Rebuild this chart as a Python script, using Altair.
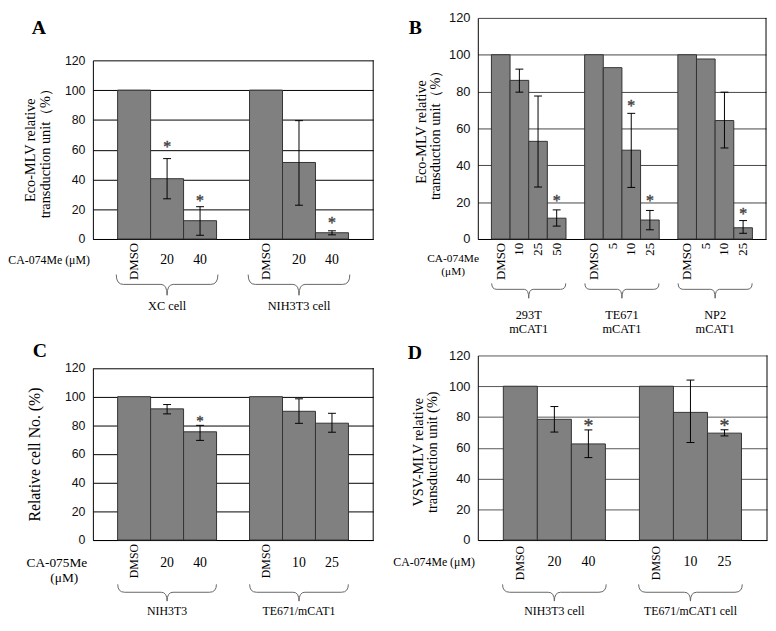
import altair as alt
import pandas as pd

SERIF = "Liberation Serif"
SANS = "Liberation Sans"
TICKS = [0, 20, 40, 60, 80, 100, 120]

# ---------------- data ----------------
A_groups = ["XC cell", "NIH3T3 cell"]
A_labels = [["DMSO", "20", "40"], ["DMSO", "20", "40"]]
A_values = [[100, 40.5, 12.3], [100, 51.4, 4.2]]
A_err_lo = [[None, 27.0, 2.5], [None, 22.7, 2.8]]
A_err_hi = [[None, 54.0, 21.7], [None, 79.5, 5.5]]
A_star = [[None, 64.0, 27.5], [None, None, 12.9]]

B_groups = ["293T\nmCAT1", "TE671\nmCAT1", "NP2\nmCAT1"]
B_labels = [["DMSO", "10", "25", "50"], ["DMSO", "5", "10", "25"], ["DMSO", "5", "10", "25"]]
B_values = [[100, 86.1, 53.0, 11.3], [100, 93.0, 48.2, 10.3], [100, 97.7, 64.3, 6.1]]
B_err_lo = [[None, 79.7, 28.2, 7.0], [None, None, 28.0, 5.0], [None, None, 49.4, 3.1]]
B_err_hi = [[None, 92.2, 77.6, 15.8], [None, None, 68.2, 15.5], [None, None, 79.7, 10.0]]
B_star = [[None, None, None, 22.3], [None, None, 74.0, 22.3], [None, None, None, 15.3]]

C_groups = ["NIH3T3", "TE671/mCAT1"]
C_labels = [["DMSO", "20", "40"], ["DMSO", "10", "25"]]
C_values = [[100, 91.5, 75.5], [100, 89.8, 81.5]]
C_err_lo = [[None, 88.0, 69.5], [None, 81.4, 75.2]]
C_err_hi = [[None, 94.5, 80.0], [None, 98.5, 88.4]]
C_star = [[None, None, 85.0], [None, None, None]]

D_groups = ["NIH3T3 cell", "TE671/mCAT1 cell"]
D_labels = [["DMSO", "20", "40"], ["DMSO", "10", "25"]]
D_values = [[100, 78.5, 62.5], [100, 83.0, 69.5]]
D_err_lo = [[None, 70.2, 53.6], [None, 63.4, 67.7]]
D_err_hi = [[None, 86.8, 71.6], [None, 104.0, 71.7]]
D_star = [[None, None, 76.4], [None, None, 76.4]]


def brace_path(width, end_px, point_px):
    r = width / 2.0
    e = end_px / r
    p = point_px / r
    return (f"M -1 {-e:.3f} Q -1 0 -0.86 0 L -0.12 0 Q 0 0 0 {p:.3f} "
            f"Q 0 0 0.12 0 L 0.86 0 Q 1 0 1 {-e:.3f}")


def panel(letter, groups, labels, values, lo, hi, star, cfg):
    rows, domain, centers = [], [], []
    for gi, (g, labs, vals, los, his, sts) in enumerate(zip(groups, labels, values, lo, hi, star)):
        if gi > 0:
            domain.append(f"gap{gi}")
        for i in range(len(labs)):
            key = f"{gi}-{i}"
            domain.append(key)
            rows.append({"key": key, "label": labs[i], "value": vals[i],
                         "lo": los[i], "hi": his[i], "star": sts[i]})
        centers.append({"key": f"{gi}-1", "group": g})
    df = pd.DataFrame(rows)
    err = df.dropna(subset=["lo"]).copy()
    stars = df.dropna(subset=["star"]).copy()
    if cfg["all_rot"]:
        rot = df.copy()
        hor = df.iloc[0:0]
    else:
        rot = df[df["label"] == "DMSO"].copy()
        hor = df[df["label"] != "DMSO"].copy()
    gdf = pd.DataFrame(centers)

    W, H = cfg["W"], cfg["H"]
    yscale = alt.Scale(domain=[0, 120], range=cfg["yrange"], nice=False)
    xscale = alt.Scale(domain=domain, paddingInner=0, paddingOuter=cfg["po"])
    xaxis = alt.Axis(labels=False, ticks=False, title=None, domain=True,
                     domainColor="black", domainWidth=1, grid=False)
    X = alt.X("key:N", scale=xscale, axis=xaxis)
    XC = alt.X("key:N", scale=xscale, axis=xaxis, bandPosition=cfg["bp"])
    yaxis = alt.Axis(values=TICKS, tickCount=7, grid=True, gridColor=cfg["grid"], gridWidth=1,
                     ticks=False, tickSize=0, labelFont=SANS, labelFontSize=cfg["lfs"],
                     labelColor="#111111", labelPadding=8, labelOverlap=False,
                     domain=True, domainColor="black", domainWidth=1,
                     title=cfg["title"], titleFont=SERIF, titleFontSize=cfg["tfs"],
                     titleFontWeight="normal", titleColor="black", titleX=cfg["tx"],
                     titleY=cfg["ty"], titleLineHeight=cfg["tlh"], titleBaseline="bottom",
                     titleAngle=270, titleAlign="center")

    def Y(f):
        return alt.Y(f, scale=yscale, axis=yaxis)

    layers = []
    layers.append(alt.Chart(df).mark_bar(fill="#808080", stroke="#333333", strokeWidth=1).encode(
        x=X, y=Y("value:Q")))
    layers.append(alt.Chart(pd.DataFrame({"value": [0], "y1": [120]})).mark_rule(
        color="black", strokeWidth=1).encode(x=alt.value(W), y=Y("value:Q"), y2="y1:Q"))
    layers.append(alt.Chart(err).mark_rule(color="black", strokeWidth=1).encode(
        x=X, y=Y("lo:Q"), y2="hi:Q"))
    for fld in ["lo", "hi"]:
        layers.append(alt.Chart(err).mark_point(shape="stroke", size=64, stroke="black",
                                                strokeWidth=1, filled=False, opacity=1).encode(
            x=X, y=Y(f"{fld}:Q")))
    layers.append(alt.Chart(stars).mark_text(text="*", font=SERIF, fontSize=cfg["sfs"],
                                             baseline="alphabetic", dy=cfg["sfs"] * 0.5,
                                             color="#444444", stroke="#444444",
                                             strokeWidth=0.4).encode(x=X, y=Y("star:Q")))
    layers.append(alt.Chart(rot).mark_text(angle=270, align="right", baseline="middle",
                                           font=SERIF, fontSize=cfg["rfs"], color="black").encode(
        x=X, y=alt.value(cfg["rot_y"]), text="label:N"))
    if len(hor):
        layers.append(alt.Chart(hor).mark_text(align="center", baseline="middle", font=SERIF,
                                               fontSize=cfg["nfs"], color="black").encode(
            x=X, y=alt.value(cfg["num_y"]), text="label:N"))
    layers.append(alt.Chart(gdf).mark_point(shape=cfg["brace"], size=cfg["bw"] ** 2, filled=False,
                                            stroke="#666666", strokeWidth=1, opacity=1).encode(
        x=XC, y=alt.value(cfg["brace_y"])))
    layers.append(alt.Chart(gdf).mark_text(font=SERIF, fontSize=cfg["gfs"], lineBreak="\n",
                                           lineHeight=14.5, baseline="middle", color="black").encode(
        x=XC, y=alt.value(cfg["glab_y"]), text="group:N"))
    for (t, x, y, al, fs) in cfg["ca"]:
        layers.append(alt.Chart(pd.DataFrame({"t": [t]})).mark_text(
            align=al, baseline="middle", font=SERIF, fontSize=fs, color="black").encode(
            text="t:N", x=alt.value(x), y=alt.value(y)))
    layers.append(alt.Chart(pd.DataFrame({"t": [letter]})).mark_text(
        align="left", baseline="middle", font=SERIF, fontSize=20, fontWeight="bold",
        color="black").encode(text="t:N", x=alt.value(cfg["lx"]), y=alt.value(cfg["ly"])))
    return alt.layer(*layers).properties(width=W, height=H)


cfgA = dict(W=284, H=224, yrange=[224, 43], po=0.75, bp=0.5, grid="black", lfs=12.5,
            title=["Eco-MLV relative", "transduction unit（%）"], tfs=14.5, tx=-56, ty=133.5, tlh=15,
            all_rot=False, rot_y=228, num_y=245.7, rfs=13, nfs=14, sfs=16,
            brace=brace_path(103, 10, 11), bw=103, brace_y=270, glab_y=291.5, gfs=12.5,
            ca=[("CA-074Me (μM)", -3, 245.7, "right", 12)], lx=-62, ly=9.8)
cfgB = dict(W=292, H=224, yrange=[224, 0], po=0.73, bp=1.0, grid="#444444", lfs=13,
            title=["Eco-MLV relative", "transduction unit（%）"], tfs=14.5, tx=-50, ty=115, tlh=14,
            all_rot=True, rot_y=228, num_y=245.7, rfs=13, nfs=14, sfs=16,
            brace=brace_path(75, 6, 9), bw=75, brace_y=275, glab_y=300.8, gfs=12.5,
            ca=[("CA-074Me", -25, 244.7, "center", 11.5), ("(μM)", -25, 257.4, "center", 11.5)],
            lx=-70, ly=9.8)
cfgC = dict(W=284, H=187, yrange=[187, 12.7], po=0.75, bp=0.5, grid="black", lfs=12.5,
            title="Relative cell No. (%)", tfs=16, tx=-51, ty=99.9, tlh=15,
            all_rot=False, rot_y=191, num_y=210.6, rfs=12, nfs=14, sfs=15,
            brace=brace_path(100, 8, 9), bw=100, brace_y=239.9, glab_y=259.4, gfs=12,
            ca=[("CA-075Me", -36.5, 210.6, "center", 13.5), ("(μM)", -29, 226, "center", 13.5)],
            lx=-61, ly=-4.4)
cfgD = dict(W=293, H=187, yrange=[187, 0], po=0.75, bp=0.5, grid="#555555", lfs=13,
            title=["VSV-MLV relative", "transduction unit (%)"], tfs=14.5, tx=-53, ty=97.5, tlh=14,
            all_rot=False, rot_y=193, num_y=209.6, rfs=12, nfs=14, sfs=20,
            brace=brace_path(105, 8, 9), bw=105, brace_y=239.9, glab_y=259.4, gfs=12,
            ca=[("CA-074Me (μM)", -3, 209.6, "right", 12)], lx=-71, ly=-2.9)

pA = panel("A", A_groups, A_labels, A_values, A_err_lo, A_err_hi, A_star, cfgA)
pB = panel("B", B_groups, B_labels, B_values, B_err_lo, B_err_hi, B_star, cfgB)
pC = panel("C", C_groups, C_labels, C_values, C_err_lo, C_err_hi, C_star, cfgC)
pD = panel("D", D_groups, D_labels, D_values, D_err_lo, D_err_hi, D_star, cfgD)

chart = alt.concat(pA, pB, pC, pD, columns=2, spacing={"row": 118, "column": 106},
                   bounds="flush", align="each").configure_view(stroke=None).properties(
    padding={"left": 0, "top": 0, "right": 0, "bottom": 0})

chart.save("out.html", embed_options={"renderer": "svg", "actions": False})
